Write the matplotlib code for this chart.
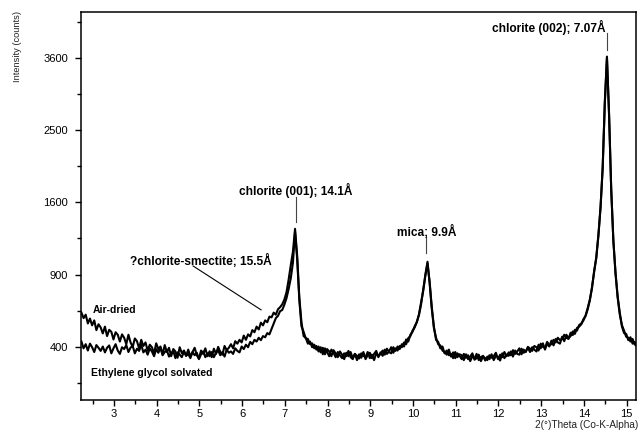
import numpy as np
import matplotlib
matplotlib.use("Agg")
import matplotlib.pyplot as plt
from matplotlib.ticker import FixedLocator

plt.rcParams['font.family'] = ['Liberation Sans', 'DejaVu Sans']

# 2-theta scan: start and step (degrees, Co-K-alpha)
theta_start = 2.24
theta_step = 0.05

air_dried = [
    612, 575, 598, 540, 572, 528, 560, 498, 535, 515,
    478, 520, 462, 500, 488, 442, 485, 470, 430, 472,
    452, 415, 470, 425, 400, 448, 432, 392, 440, 405,
    425, 380, 412, 398, 365, 420, 388, 402, 360, 410,
    372, 395, 350, 388, 375, 342, 398, 366, 380, 352,
    385, 348, 372, 395, 355, 338, 380, 362, 392, 350,
    376, 345, 390, 362, 400, 372, 358, 405, 382, 395,
    415, 392, 432, 418, 440, 425, 465, 440, 472, 460,
    498, 485, 520, 502, 545, 528, 560, 548, 585, 580,
    612, 598, 635, 650, 670, 705, 760, 860, 980, 1100,
    1320, 1060, 720, 548, 462, 452, 418, 430, 398, 412,
    385, 402, 370, 395, 360, 388, 375, 350, 382, 365,
    345, 375, 358, 335, 368, 350, 372, 340, 362, 330,
    360, 342, 372, 335, 355, 368, 340, 362, 378, 345,
    370, 352, 385, 362, 375, 398, 368, 392, 380, 405,
    398, 425, 415, 450, 462, 495, 515, 550, 595, 670,
    780, 900, 1010, 830, 640, 510, 452, 415, 408, 380,
    372, 358, 385, 348, 370, 340, 365, 352, 335, 362,
    342, 355, 325, 350, 338, 362, 330, 345, 352, 328,
    348, 335, 360, 330, 352, 345, 328, 365, 340, 358,
    352, 375, 348, 380, 362, 358, 390, 368, 376, 395,
    372, 398, 385, 375, 412, 392, 420, 385, 418, 402,
    435, 408, 445, 425, 418, 458, 432, 470, 450, 462,
    490, 475, 512, 520, 535, 568, 590, 635, 700, 800,
    920, 1050, 1250, 1550, 2000, 2900, 3620, 2700, 1750, 1200,
    920, 720, 600, 530, 495, 458, 452, 430, 445, 412,
    418,
]

glycol = [
    430, 392, 415, 380, 418, 398, 372, 410, 395, 378,
    402, 370, 395, 408, 365, 392, 415, 380, 362, 398,
    388, 410, 372, 396, 405, 365, 390, 378, 412, 370,
    385, 358, 392, 375, 350, 388, 368, 395, 355, 372,
    380, 348, 365, 378, 340, 370, 358, 345, 375, 352,
    362, 340, 372, 355, 368, 335, 360, 375, 345, 365,
    350, 372, 345, 368, 380, 355, 372, 348, 385, 368,
    375, 362, 392, 378, 370, 402, 388, 412, 398, 428,
    415, 440, 430, 452, 438, 462, 455, 480, 472, 505,
    540, 575, 590, 622, 630, 668, 715, 785, 870, 1000,
    1290, 1030, 700, 522, 488, 448, 445, 415, 420, 392,
    405, 375, 398, 360, 392, 372, 350, 385, 368, 345,
    372, 355, 340, 365, 350, 378, 345, 335, 362, 352,
    338, 365, 352, 345, 372, 340, 358, 330, 365, 350,
    362, 380, 358, 390, 372, 365, 398, 378, 402, 388,
    415, 402, 442, 430, 470, 488, 522, 548, 600, 685,
    770, 890, 995, 840, 650, 520, 440, 428, 392, 402,
    365, 380, 355, 362, 340, 372, 345, 360, 355, 330,
    360, 335, 348, 365, 332, 340, 358, 325, 348, 340,
    330, 355, 342, 350, 368, 335, 358, 345, 372, 350,
    370, 355, 382, 362, 375, 392, 360, 385, 372, 400,
    390, 378, 405, 398, 380, 418, 400, 395, 428, 410,
    415, 440, 425, 452, 438, 445, 470, 452, 445, 482,
    468, 500, 495, 530, 540, 560, 592, 645, 705, 790,
    930, 1040, 1260, 1540, 2010, 2880, 3600, 2720, 1740, 1210,
    910, 730, 612, 522, 480, 475, 438, 455, 418, 428,
    400,
]

x_ticks = [3, 4, 5, 6, 7, 8, 9, 10, 11, 12, 13, 14, 15]
y_ticks = [400, 900, 1600, 2500, 3600]
y_minor = [225, 625, 1225, 2025, 3025, 4225]

theta = np.round(theta_start + theta_step * np.arange(len(air_dried)), 2)

fig = plt.figure(figsize=(6.43, 4.32), dpi=100)
ax = fig.add_axes([81/643, 1 - 400/432, (636 - 81)/643, (400 - 12)/432])

ax.plot(theta, np.array(air_dried), color='black', lw=1.5, zorder=3)
ax.plot(theta, np.array(glycol), color='black', lw=1.5, zorder=3)

ax.set_yscale('function', functions=(lambda v: np.sqrt(np.clip(v, 0, None)), np.square))
ax.set_xlim(2.23, 15.22)
ax.set_ylim(160, 4400)

ax.xaxis.set_major_locator(FixedLocator(x_ticks))
ax.xaxis.set_minor_locator(FixedLocator([t + 0.5 for t in [2] + x_ticks]))
ax.yaxis.set_major_locator(FixedLocator(y_ticks))
ax.yaxis.set_minor_locator(FixedLocator(y_minor))
ax.set_xticklabels([str(t) for t in x_ticks])
ax.set_yticklabels([str(t) for t in y_ticks])

ax.tick_params(axis='both', which='major', direction='out', length=4.3, width=1.0,
               labelsize=8, colors='black')
ax.tick_params(axis='both', which='minor', direction='out', length=2.6, width=1.0)
ax.tick_params(axis='x', which='major', pad=2)
ax.tick_params(axis='y', which='major', pad=5)
for s in ax.spines.values():
    s.set_linewidth(1.1)

fig.text(18/643, 1 - 46/432, 'Intensity (counts)', rotation=90, ha='center', va='center',
         fontsize=6.7, color='#222222')
fig.text(638/643, 1 - 425/432, '2(°)Theta (Co-K-Alpha)', ha='right', va='center',
         fontsize=7.2, color='#222222')

peak = dict(fontsize=8.6, fontweight='bold', color='black')
sample = dict(fontsize=7.5, fontweight='bold', color='black')

# peak labels with tick lines
ax.text(7.265, 1739, 'chlorite (001); 14.1Å', ha='center', va='center', **peak)
ax.plot([7.265, 7.265], [1660, 1393], color='#444444', lw=0.8)

ax.text(10.32, 1289, 'mica; 9.9Å', ha='center', va='center', **peak)
ax.plot([10.31, 10.31], [1239, 1089], color='#444444', lw=0.8)

ax.text(14.52, 4129, 'chlorite (002); 7.07Å', ha='right', va='center', **peak)
ax.plot([14.54, 14.54], [4023, 3731], color='#444444', lw=0.8)

ax.text(6.70, 1017, '?chlorite-smectite; 15.5Å', ha='right', va='center', **peak)
ax.plot([4.853, 6.445], [973, 631], color='black', lw=0.8)

ax.text(2.51, 631, 'Air-dried', ha='left', va='center', **sample)
ax.text(2.46, 269, 'Ethylene glycol solvated', ha='left', va='center', **sample)

fig.savefig('out.png', dpi=100)
